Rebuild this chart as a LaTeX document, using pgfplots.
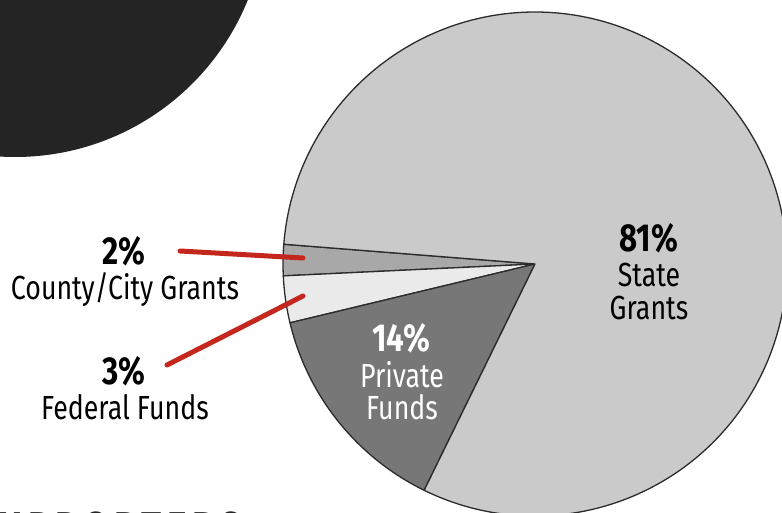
\documentclass[border=0pt]{standalone}
\usepackage{fontspec}
\setmainfont{Fira Sans}[FakeStretch=0.8]
\usepackage{pgfplots}
\pgfplotsset{compat=1.18}
\usepackage{pgfplotstable}
\definecolor{stateC}{HTML}{C9CAC9}
\definecolor{privC}{HTML}{777777}
\definecolor{fedC}{HTML}{EAEAEA}
\definecolor{cntyC}{HTML}{A8A8A8}
\definecolor{edgeC}{HTML}{2B2B2B}
\definecolor{blobC}{HTML}{242424}
\definecolor{redC}{HTML}{C3271D}

\pgfplotstableread{
share fillc
2 cntyC
3 fedC
14 privC
81 stateC
}\piedata

\newcommand\lblfont{\fontsize{33.4bp}{40bp}\selectfont}
\newcommand\pctfont{\fontsize{39bp}{44bp}\selectfont\bfseries}

\begin{document}
\begin{tikzpicture}
\begin{axis}[
  scale only axis, width=782bp, height=513bp,
  xmin=0, xmax=782, ymin=0, ymax=513,
  hide axis, clip=true,
]
% dark disc in the corner
\fill[blobC] (axis cs:15,607) circle[radius=251bp];
% pie
\gdef\start{175.5}
\pgfplotsforeachungrouped \i in {0,...,3}{%
  \pgfplotstablegetelem{\i}{share}\of\piedata \let\p=\pgfplotsretval
  \pgfplotstablegetelem{\i}{fillc}\of\piedata \let\c=\pgfplotsretval
  \pgfmathsetmacro\angA{\start}%
  \pgfmathsetmacro\angB{\start+3.6*\p}%
  \edef\tmp{\noexpand\filldraw[fill=\c, draw=edgeC, line width=1.3bp, line join=round]
    (axis cs:535,249) -- ++(\angA:252bp) arc[start angle=\angA, end angle=\angB, radius=252bp] -- cycle;}%
  \tmp
  \xdef\start{\angB}%
}
% leader lines
\draw[redC, line width=5bp, line cap=round] (axis cs:180,262) -- (axis cs:303,255);
\draw[redC, line width=5bp, line cap=round] (axis cs:167,148) -- (axis cs:303,217);
% labels
\node[anchor=base, inner sep=0, font=\pctfont] at (axis cs:649,261) {81\%};
\node[anchor=base, inner sep=0, font=\lblfont] at (axis cs:649,226) {State};
\node[anchor=base, inner sep=0, font=\lblfont] at (axis cs:649,193) {Grants};
\node[anchor=base, inner sep=0, font=\pctfont, text=white] at (axis cs:401,161) {14\%};
\node[anchor=base, inner sep=0, font=\lblfont, text=white] at (axis cs:402,125) {Private};
\node[anchor=base, inner sep=0, font=\lblfont, text=white] at (axis cs:402,93) {Funds};
\node[anchor=base, inner sep=0, font=\pctfont] at (axis cs:124,248) {2\%};
\node[anchor=base, inner sep=0, font=\lblfont] at (axis cs:125,213) {County/City Grants};
\node[anchor=base, inner sep=0, font=\pctfont] at (axis cs:124,128) {3\%};
\node[anchor=base, inner sep=0, font=\lblfont] at (axis cs:125,93) {Federal Funds};
% cut-off heading at the bottom edge
\node[anchor=north west, inner sep=0, text=blobC, font=\fontsize{46bp}{50bp}\selectfont\bfseries\addfontfeature{LetterSpace=12}] at (axis cs:-28,1.3) {SUPPORTERS};
\end{axis}
\end{tikzpicture}
\end{document}
